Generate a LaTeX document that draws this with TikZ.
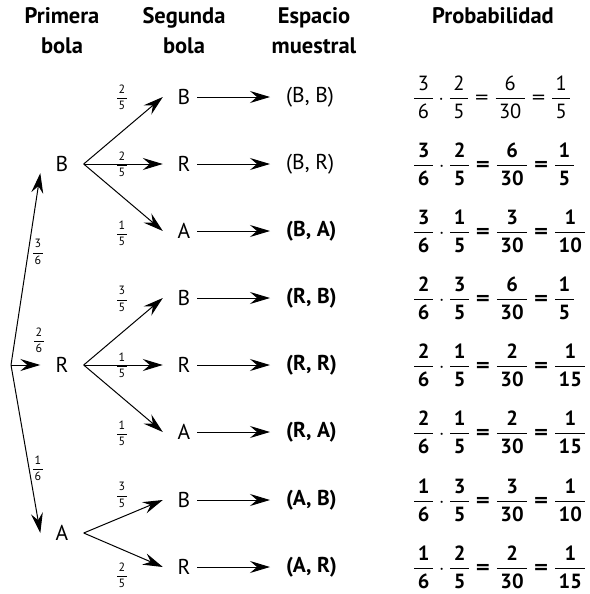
\documentclass[tikz,border=0pt]{standalone}
\usepackage{fontspec}
\setmainfont{PT Sans}
\usepackage{amsmath}
\usepackage{graphicx}
\usetikzlibrary{arrows.meta}

% signo igual algo mas ancho, como en el original
\newcommand{\igual}{\mathrel{\mbox{\scalebox{1.3}[1]{=}}}}

\begin{document}
\begin{tikzpicture}[x=1pt,y=-1pt,
  flecha/.style={-{Stealth[length=20pt,width=12pt,inset=7pt]}, line width=1pt},
  titulo/.style={align=center, font=\bfseries\fontsize{22.5}{30}\selectfont},
  primera/.style={minimum width=43pt, minimum height=18pt, inner sep=0pt, font=\fontsize{21.5}{24}\selectfont},
  segunda/.style={minimum width=34pt, minimum height=18pt, inner sep=0pt, font=\fontsize{21.5}{24}\selectfont},
  peso/.style={inner sep=0pt, font=\fontsize{12}{13}\selectfont}]

  \useasboundingbox (0,0) rectangle (589,594);

  % Encabezados de las columnas
  \node[titulo] (tp) at (62,31) {Primera\\bola};
  \node[titulo] (ts) at (184,31) {Segunda\\bola};
  \node[titulo] (te) at (314,31) {Espacio\\muestral};
  \node[titulo] (tq) at (493,16) {Probabilidad};

  % Primera bola
  \coordinate (raiz) at (11,365);
  \node[primera] (b1) at (62,164) {B};
  \node[primera] (r1) at (62,365) {R};
  \node[primera] (a1) at (62,533) {A};

  \draw[flecha] (raiz) -- (b1.south west);
  \draw[flecha] (raiz) -- (r1.west);
  \draw[flecha] (raiz) -- (a1.west);

  \node[peso] (w1) at (38,252) {$\displaystyle\frac{\mbox{\kern1.5pt3\kern1.5pt}}{\mbox{6}}$};
  \node[peso] (w2) at (39,340) {$\displaystyle\frac{\mbox{\kern1.5pt2\kern1.5pt}}{\mbox{6}}$};
  \node[peso] (w3) at (38,468) {$\displaystyle\frac{\mbox{\kern1.5pt1\kern1.5pt}}{\mbox{6}}$};

  % Segunda bola, espacio muestral y probabilidad (fila por fila)
  \foreach \i/\y/\lt/\es/\fe/\fp/\na/\da/\nb/\db/\nc/\dc/\nd/\dn/\wa/\wb/\wy in {
      1/97/B/{(B, B)}/\mdseries/\mdseries/3/6/2/5/6/30/1/5/2/5/97,
      2/164/R/{(B, R)}/\mdseries/\bfseries/3/6/2/5/6/30/1/5/2/5/164,
      3/231/A/{(B, A)}/\bfseries/\bfseries/3/6/1/5/3/30/1/10/1/5/233,
      4/298/B/{(R, B)}/\bfseries/\bfseries/2/6/3/5/6/30/1/5/3/5/299,
      5/365/R/{(R, R)}/\bfseries/\bfseries/2/6/1/5/2/30/1/15/1/5/365,
      6/432/A/{(R, A)}/\bfseries/\bfseries/2/6/1/5/2/30/1/15/1/5/433,
      7/500/B/{(A, B)}/\bfseries/\bfseries/1/6/3/5/3/30/1/10/3/5/495,
      8/567/R/{(A, R)}/\bfseries/\bfseries/1/6/2/5/2/30/1/15/2/5/575}{
    \node[segunda] (s\i) at (180,\y) {\kern8pt\lt};
    \node[anchor=west, inner xsep=16pt, inner ysep=0pt, font={\fontsize{21.5}{24}\selectfont\fe}] (e\i) at (270,\y) {\es};
    \node[anchor=west, inner sep=0pt, font={\fontsize{20.5}{22}\selectfont\fp}] (p\i) at (413,\y)
      {$\displaystyle\frac{\mbox{\kern3.5pt\na\kern3.5pt}}{\mbox{\da}}\cdot
        \frac{\mbox{\kern3.5pt\nb\kern3.5pt}}{\mbox{\db}}\igual
        \frac{\mbox{\kern3.5pt\nc\kern3.5pt}}{\mbox{\kern3.5pt\dc\kern3.5pt}}\igual
        \frac{\mbox{\kern3.5pt\nd\kern3.5pt}}{\mbox{\kern3.5pt\dn\kern3.5pt}}$};
    \node[peso] (v\i) at (122,\wy) {$\displaystyle\frac{\mbox{\kern1.5pt\wa\kern1.5pt}}{\mbox{\wb}}$};
    \draw[flecha] (s\i.east) -- (e\i.west);
  }

  % Ramas de la segunda bola
  \foreach \s in {1,2,3} \draw[flecha] (b1.east) -- (s\s.west);
  \foreach \s in {4,5,6} \draw[flecha] (r1.east) -- (s\s.west);
  \foreach \s in {7,8} \draw[flecha] (a1.east) -- (s\s.west);

\end{tikzpicture}
\end{document}
